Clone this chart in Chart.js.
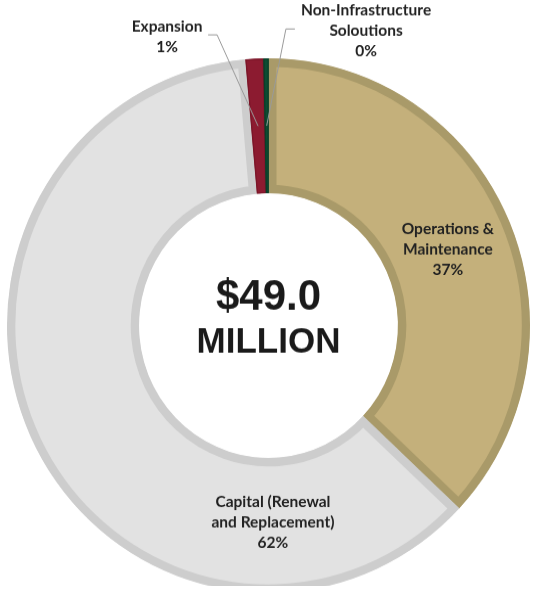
<!DOCTYPE html>
<html>
<head>
<meta charset="utf-8">
<script src="https://cdn.jsdelivr.net/npm/chart.js@4"></script>
<style>
  body { margin: 0; background: #fff; overflow: hidden; }
  /* reference is slightly taller than wide, so stretch the drawing a little */
  #wrap { width: 534px; height: 586px; position: relative; transform: scale(1, 1.0222); transform-origin: 0 0; }
</style>
</head>
<body>
<div id="wrap"><canvas id="budgetChart"></canvas></div>
<script>
// slices in drawing order, clockwise from 12 o'clock
const categories = ['Operations & Maintenance', 'Capital (Renewal and Replacement)', 'Expansion', 'Non-Infrastructure Soloutions'];
const shares = [37, 61.6, 1.1, 0.3];
const labelLines = [
    ['Operations &', 'Maintenance', '37%'],
    ['Capital (Renewal', 'and Replacement)', '62%'],
    ['Expansion', '1%'],
    ['Non-Infrastructure', 'Soloutions', '0%']
];
const totalText = ['$49.0', 'MILLION'];

const fills = ['#c4b07b', '#e2e2e2', '#8c1b30', '#0c4c32'];
const borders = ['#a99a69', '#cdcdcd', '#7c1629', '#0a3f29'];

// label placement relative to chart centre, in units of outer radius
// null means use slice midpoint
const labelPlace = [
    null,
    { x: 0.017, y: 0.735 },
    { x: -0.388, y: -1.08, leader: { hx: 0.157, side: 1 } },
    { x: 0.373, y: -1.102, leader: { hx: 0.272, side: -1 } }
];

const labelPlugin = {
    id: 'sliceLabels',
    afterDatasetsDraw(chart) {
        const c = chart.ctx;
        const arcs = chart.getDatasetMeta(0).data;
        const cx = arcs[0].x, cy = arcs[0].y;
        const R = arcs[0].outerRadius;
        const lh = 20;
        c.save();
        c.textAlign = 'center';
        c.textBaseline = 'middle';
        c.font = 'bold 15.5px Lato, "Open Sans", sans-serif';
        arcs.forEach((arc, i) => {
            const mid = (arc.startAngle + arc.endAngle) / 2;
            const rMid = (arc.innerRadius + arc.outerRadius) / 2;
            const p = labelPlace[i];
            let lx, ly;
            if (!p) {
                lx = cx + Math.cos(mid) * rMid;
                ly = cy + Math.sin(mid) * rMid + 3;
            } else {
                lx = cx + p.x * R;
                ly = cy + p.y * R;
            }
            const lines = labelLines[i];
            const top = ly - (lines.length - 1) * lh / 2;
            if (p && p.leader) {
                const ax = cx + Math.cos(mid) * rMid;
                const ay = cy + Math.sin(mid) * rMid;
                const y0 = ly - 2;
                const x0 = lx + p.leader.side * p.leader.hx * R;
                const x1 = x0 + p.leader.side * 9;
                c.strokeStyle = '#9a9a9a';
                c.lineWidth = 1;
                c.beginPath();
                c.moveTo(x0, y0);
                c.lineTo(x1, y0);
                c.lineTo(ax, ay);
                c.stroke();
            }
            c.fillStyle = '#222222';
            lines.forEach((t, k) => c.fillText(t, lx, top + k * lh));
        });
        // centre total
        c.fillStyle = '#1a1a1a';
        c.font = 'bold 42px "Liberation Sans", Arial, sans-serif';
        c.fillText(totalText[0], cx, cy - 27);
        c.font = 'bold 35px "Liberation Sans", Arial, sans-serif';
        c.fillText(totalText[1], cx, cy + 17);
        c.restore();
    }
};

new Chart(document.getElementById('budgetChart'), {
    type: 'doughnut',
    data: {
        labels: categories,
        datasets: [{
            data: shares,
            backgroundColor: fills,
            borderColor: borders,
            borderWidth: [8, 8, 1, 1],
            borderAlign: 'inner'
        }]
    },
    options: {
        responsive: true,
        maintainAspectRatio: false,
        animation: false,
        cutout: '49.5%',
        layout: { padding: { left: 7, right: 4, top: 57, bottom: 6 } },
        plugins: {
            legend: { display: false },
            tooltip: { enabled: false }
        }
    },
    plugins: [labelPlugin]
});
</script>
</body>
</html>
